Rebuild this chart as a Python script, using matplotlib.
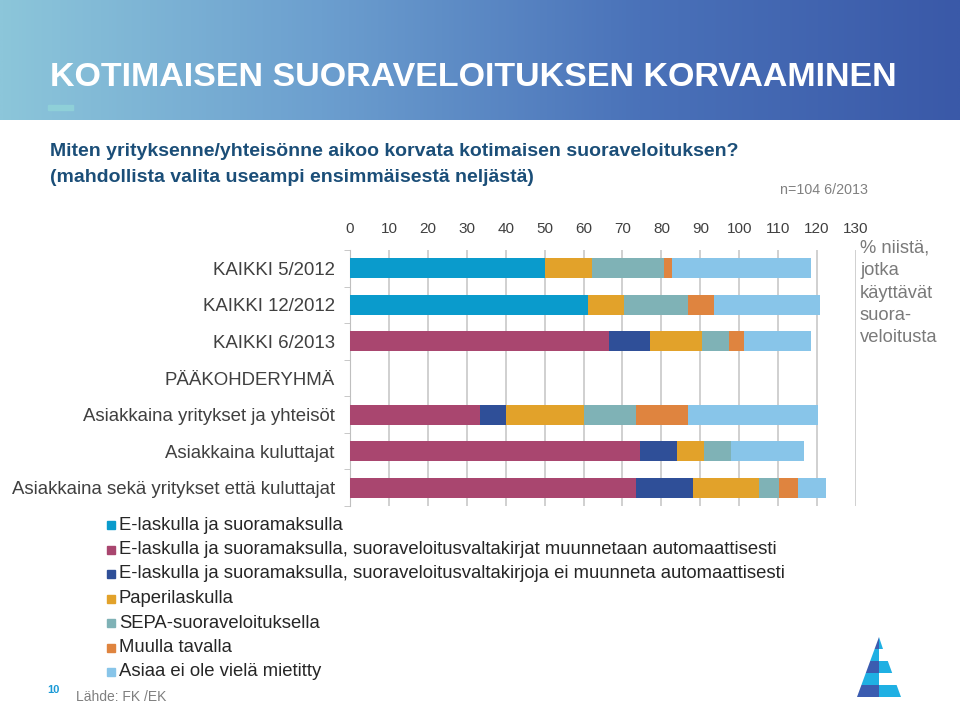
import numpy as np
import matplotlib
matplotlib.use("Agg")
import matplotlib.pyplot as plt
from matplotlib.patches import Rectangle, Polygon
from matplotlib.colors import LinearSegmentedColormap

plt.rcParams['font.family'] = ['Liberation Sans', 'DejaVu Sans']

# ---------------- data ----------------
categories = ["KAIKKI 5/2012", "KAIKKI 12/2012", "KAIKKI 6/2013", "PÄÄKOHDERYHMÄ",
              "Asiakkaina yritykset ja yhteisöt", "Asiakkaina kuluttajat",
              "Asiakkaina sekä yritykset että kuluttajat"]
series_names = ["E-laskulla ja suoramaksulla",
                "E-laskulla ja suoramaksulla, suoraveloitusvaltakirjat muunnetaan automaattisesti",
                "E-laskulla ja suoramaksulla, suoraveloitusvaltakirjoja ei muunneta automaattisesti",
                "Paperilaskulla",
                "SEPA-suoraveloituksella",
                "Muulla tavalla",
                "Asiaa ei ole vielä mietitty"]
e_lasku = [50.0, 61.2, 0, 0, 0, 0, 0]
e_lasku_muunnetaan = [0, 0, 66.5, 0, 33.4, 74.6, 73.4]
e_lasku_ei_muunneta = [0, 0, 10.6, 0, 6.6, 9.3, 14.6]
paperilasku = [12.3, 9.3, 13.4, 0, 20.1, 7.1, 17.1]
sepa = [18.4, 16.3, 6.9, 0, 13.4, 6.9, 5.0]
muulla = [2.1, 6.7, 3.9, 0, 13.4, 0, 4.9]
ei_mietitty = [35.7, 27.2, 17.2, 0, 33.3, 18.7, 7.3]
x_ticks = [0, 10, 20, 30, 40, 50, 60, 70, 80, 90, 100, 110, 120, 130]

series = [e_lasku, e_lasku_muunnetaan, e_lasku_ei_muunneta, paperilasku, sepa, muulla, ei_mietitty]
colors = ["#0a9bcc", "#a9466f", "#2f4f98", "#e2a22a", "#7fb2b6", "#df843f", "#88c5e9"]

W, H = 960, 704
fig = plt.figure(figsize=(W / 100, H / 100), dpi=100)

def fx(px):
    return px / W

def fy(py):
    return 1 - py / H

# ---------------- header ----------------
hax = fig.add_axes([0, fy(120), 1, 120 / H])
hax.set_axis_off()
cmap = LinearSegmentedColormap.from_list("hdr", ["#8cc6da", "#6c9fcf", "#4a72b9", "#3a59a8"])
grad = np.linspace(0, 1, 512)[None, :]
hax.imshow(grad, aspect='auto', cmap=cmap, extent=[0, 1, 0, 1])
hax.set_xlim(0, 1)
hax.set_ylim(0, 1)

fig.text(fx(50), fy(78), "KOTIMAISEN SUORAVELOITUKSEN KORVAAMINEN",
         fontsize=24.5, fontweight='bold', color='white', va='center', ha='left')
fig.patches.append(Rectangle((fx(48), fy(110)), fx(25), 5 / H, transform=fig.transFigure,
                             color="#8fd0d8", zorder=5))

# ---------------- subtitle ----------------
sub_col = "#1b4e78"
fig.text(fx(50), fy(152), "Miten yrityksenne/yhteisönne aikoo korvata kotimaisen suoraveloituksen?",
         fontsize=14, fontweight='bold', color=sub_col, va='center', ha='left')
fig.text(fx(50), fy(178), "(mahdollista valita useampi ensimmäisestä neljästä)",
         fontsize=14, fontweight='bold', color=sub_col, va='center', ha='left')
fig.text(fx(780), fy(190), "n=104 6/2013", fontsize=10.3, color="#808080", va='center', ha='left')

# ---------------- chart ----------------
ax = fig.add_axes([fx(350), fy(506), fx(856 - 350), 256 / H])
y = np.arange(len(categories))
left = np.zeros(len(categories))
for vals, col in zip(series, colors):
    v = np.array(vals, dtype=float)
    ax.barh(y, v, left=left, height=0.55, color=col, zorder=3)
    left += v

ax.set_xlim(0, 130)
ax.set_ylim(len(categories) - 0.5, -0.5)
ax.xaxis.tick_top()
ax.set_xticks(x_ticks)
ax.set_xticklabels([str(t) for t in x_ticks])
ax.tick_params(axis='x', length=0, pad=10, labelsize=11, labelcolor="#404040")
ax.grid(axis='x', color="#c8c8c8", lw=1.2, zorder=0)
ax.set_yticks(y)
ax.set_yticklabels(categories)
ax.tick_params(axis='y', which='major', length=0, pad=11, labelsize=13.4, labelcolor="#404040")
ax.set_yticks(np.arange(-0.5, len(categories) + 0.5, 1), minor=True)
ax.tick_params(axis='y', which='minor', length=4, color="#bfbfbf", direction='out')
for s in ['top', 'right', 'bottom']:
    ax.spines[s].set_visible(False)
ax.spines['left'].set_color("#bfbfbf")
ax.set_facecolor('none')

# side note
for i, line in enumerate(["% niistä,", "jotka", "käyttävät", "suora-", "veloitusta"]):
    fig.text(fx(860), fy(248 + i * 22.5), line, fontsize=13.2, color="#7a7a7a", va='center', ha='left')

# ---------------- legend ----------------
for i, (name, col) in enumerate(zip(series_names, colors)):
    yc = 525 + i * 24.5
    fig.patches.append(Rectangle((fx(107), fy(yc + 4)), fx(8), 8 / H, transform=fig.transFigure,
                                 color=col))
    fig.text(fx(119), fy(yc), name, fontsize=13.3, color="#262626", va='center', ha='left')

# ---------------- footer ----------------
fig.text(fx(47), fy(690), "10", fontsize=8, fontweight='bold', color="#1a9ad6", va='center', ha='left')
fig.text(fx(76), fy(697), "Lähde: FK /EK", fontsize=10, color="#7f7f7f", va='center', ha='left')

# logo (pyramid)
apex = (879, 637)
bl, br, bc = (857, 697), (901, 697), (879, 697)
nstripes = 5

def lerp(p, q, t):
    return (p[0] + (q[0] - p[0]) * t, p[1] + (q[1] - p[1]) * t)

for k in range(nstripes):
    t0, t1 = k / nstripes, (k + 1) / nstripes
    lpoly = [lerp(apex, bl, t0), lerp(apex, bl, t1), lerp(apex, bc, t1), lerp(apex, bc, t0)]
    rpoly = [lerp(apex, bc, t0), lerp(apex, bc, t1), lerp(apex, br, t1), lerp(apex, br, t0)]
    lc = "#3b5cb0" if k % 2 == 0 else "#1fb0e3"
    rc = "#1fb0e3" if k % 2 == 0 else "#ffffff"
    for poly, c in ((lpoly, lc), (rpoly, rc)):
        fig.patches.append(Polygon([(fx(px), fy(py)) for px, py in poly], closed=True,
                                   transform=fig.transFigure, color=c, lw=0))

fig.savefig("out.png", dpi=100)
